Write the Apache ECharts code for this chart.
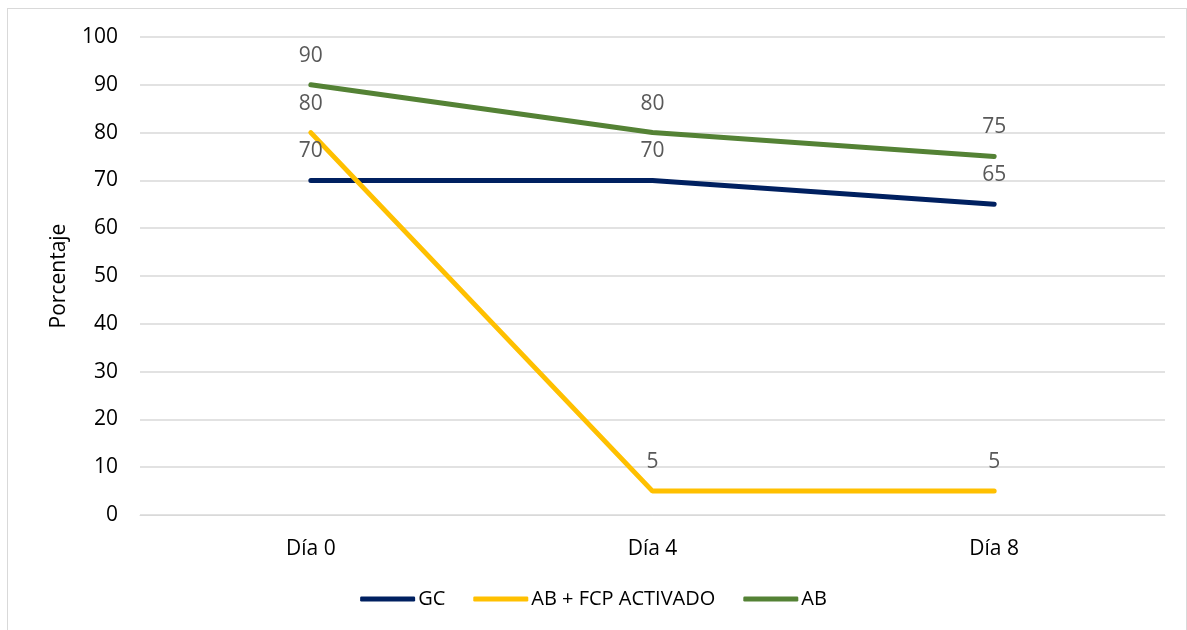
<!DOCTYPE html>
<html>
<head>
<meta charset="utf-8">
<script src="https://cdn.jsdelivr.net/npm/echarts@6/dist/echarts.min.js"></script>
<style>
    html, body { margin: 0; padding: 0; background: #fff; }
    #frame { position: absolute; left: 7px; top: 8px; width: 1180px; height: 630px; border: 1px solid #d9d9d9; box-sizing: border-box; }
    #chart { position: absolute; left: 0; top: 0; width: 1187px; height: 630px; }
</style>
</head>
<body>
<div id="frame"></div>
<div id="chart"></div>
<script>
// datos
const categories = ['Día 0', 'Día 4', 'Día 8']
const gcValues = [70, 70, 65]
const abFcpValues = [80, 5, 5]
const abValues = [90, 80, 75]

const FONT = '"Open Sans", "Liberation Sans", sans-serif'

// serie de linea con etiqueta encima del punto
const lineSeries = (name, data, color) => ({
    name,
    type: 'line',
    data,
    symbol: 'circle',
    symbolSize: 1,
    showSymbol: true,
    lineStyle: { width: 5, color, cap: 'round' },
    itemStyle: { color },
    label: {
        show: true,
        position: 'top',
        distance: 18,
        color: '#595959',
        fontSize: 21,
        fontFamily: FONT
    }
})

const chart = echarts.init(document.getElementById('chart'))
chart.setOption({
    animation: false,
    textStyle: { fontFamily: FONT },
    grid: { left: 140, right: 22, top: 37, bottom: 115 },
    legend: {
        bottom: 16,
        left: 'center',
        icon: 'roundRect',
        itemWidth: 55,
        itemHeight: 5,
        itemGap: 28,
        textStyle: { fontSize: 20, color: '#000', fontFamily: FONT, padding: [0, 0, 0, -2] },
        data: ['GC', 'AB + FCP ACTIVADO', 'AB']
    },
    xAxis: {
        type: 'category',
        data: categories,
        boundaryGap: true,
        axisLine: { lineStyle: { color: '#d9d9d9', width: 1 } },
        axisTick: { show: false },
        axisLabel: { color: '#000', fontSize: 21, margin: 24, fontFamily: FONT }
    },
    yAxis: {
        type: 'value',
        min: 0,
        max: 100,
        interval: 10,
        name: 'Porcentaje',
        nameLocation: 'middle',
        nameGap: 70,
        nameTextStyle: { color: '#000', fontSize: 21, fontFamily: FONT },
        axisLine: { show: false },
        axisTick: { show: false },
        axisLabel: { color: '#000', fontSize: 21, margin: 22, fontFamily: FONT },
        splitLine: { lineStyle: { color: '#d9d9d9', width: 1.5 } }
    },
    series: [
        lineSeries('GC', gcValues, '#002060'),
        lineSeries('AB + FCP ACTIVADO', abFcpValues, '#ffc000'),
        lineSeries('AB', abValues, '#548235')
    ]
})
</script>
</body>
</html>
